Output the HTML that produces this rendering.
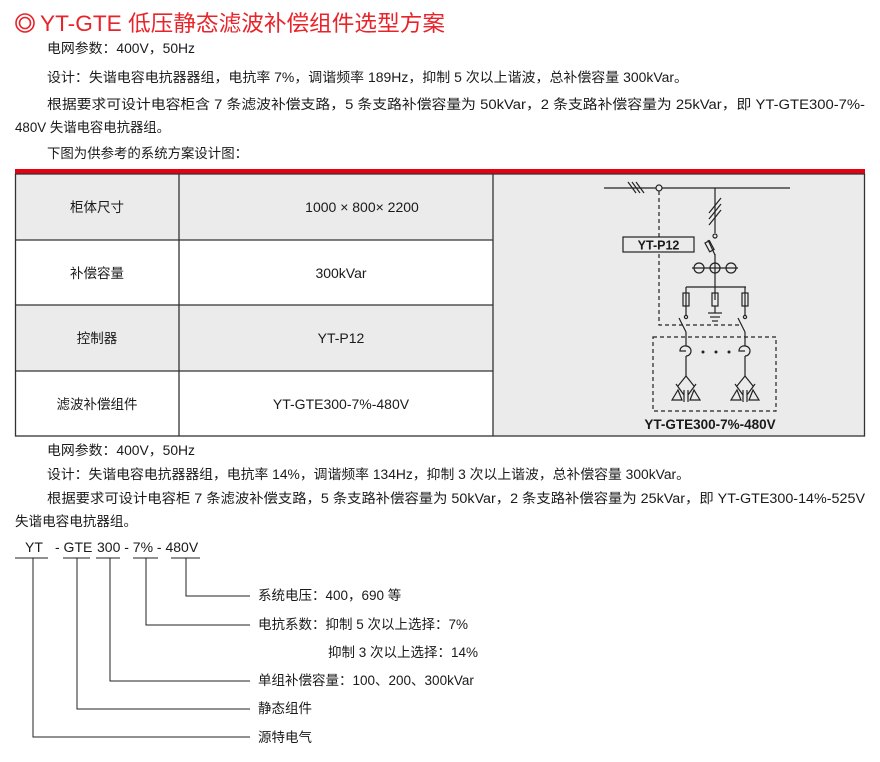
<!DOCTYPE html>
<html><head><meta charset="utf-8"><style>
html,body{margin:0;padding:0;background:#fff;}
svg{display:block;}
text{font-family:"Liberation Sans","Noto Sans CJK SC",sans-serif;fill:#1a1a1a;}
</style></head><body>
<svg width="880" height="762" viewBox="0 0 880 762" xmlns="http://www.w3.org/2000/svg">
<circle cx="25" cy="23" r="9" fill="none" stroke="#e8232a" stroke-width="1.6"/>
<circle cx="25" cy="23" r="5.5" fill="none" stroke="#e8232a" stroke-width="1.6"/>
<text x="40" y="31" font-size="22" style="fill:#e8232a" textLength="405" lengthAdjust="spacingAndGlyphs">YT-GTE 低压静态滤波补偿组件选型方案</text>
<g font-size="13.5">
<text x="47" y="53" textLength="148" lengthAdjust="spacingAndGlyphs">电网参数：400V，50Hz</text>
<text x="47" y="82" textLength="641" lengthAdjust="spacingAndGlyphs">设计：失谐电容电抗器器组，电抗率 7%，调谐频率 189Hz，抑制 5 次以上谐波，总补偿容量 300kVar。</text>
<text x="47" y="109" textLength="818" lengthAdjust="spacingAndGlyphs">根据要求可设计电容柜含 7 条滤波补偿支路，5 条支路补偿容量为 50kVar，2 条支路补偿容量为 25kVar，即 YT-GTE300-7%-</text>
<text x="15" y="132" textLength="155" lengthAdjust="spacingAndGlyphs">480V 失谐电容电抗器组。</text>
<text x="47" y="158" textLength="201" lengthAdjust="spacingAndGlyphs">下图为供参考的系统方案设计图：</text>
</g>
<rect x="15" y="174" width="478" height="66" fill="#ebebeb"/>
<rect x="15" y="305" width="478" height="66" fill="#ebebeb"/>
<rect x="493" y="174" width="372" height="262" fill="#ebebeb"/>
<rect x="15" y="169" width="850" height="5" fill="#e60012"/>
<g stroke="#333" stroke-width="1.3" fill="none">
<rect x="15.5" y="174" width="849" height="262"/>
<line x1="179" y1="174" x2="179" y2="436"/>
<line x1="493" y1="174" x2="493" y2="436"/>
<line x1="15" y1="240" x2="493" y2="240"/>
<line x1="15" y1="305" x2="493" y2="305"/>
<line x1="15" y1="371" x2="493" y2="371"/>
</g>
<g font-size="13.5" text-anchor="middle">
<text x="97" y="212">柜体尺寸</text>
<text x="97" y="278">补偿容量</text>
<text x="97" y="343">控制器</text>
<text x="97" y="409">滤波补偿组件</text>
</g>
<g font-size="14" text-anchor="middle">
<text x="362" y="212">1000 × 800× 2200</text>
<text x="341" y="278">300kVar</text>
<text x="341" y="343">YT-P12</text>
<text x="341" y="409">YT-GTE300-7%-480V</text>
</g>
<g stroke="#222" stroke-width="1.2" fill="none">
<line x1="604" y1="188" x2="790" y2="188"/>
<line x1="628" y1="182" x2="636" y2="193"/>
<line x1="632" y1="182" x2="640" y2="193"/>
<line x1="636" y1="182" x2="644" y2="193"/>
<circle cx="659" cy="188" r="3" fill="#ebebeb"/>
<path d="M659 191 V325 H740" stroke-dasharray="4,3"/>
<rect x="623" y="237" width="71" height="15" fill="#ebebeb"/>
<line x1="715" y1="188" x2="715" y2="233"/>
<line x1="709" y1="213" x2="721" y2="198"/>
<line x1="709" y1="219" x2="721" y2="204"/>
<line x1="709" y1="225" x2="721" y2="210"/>
<circle cx="715" cy="236" r="2" fill="#ebebeb"/>
<line x1="708" y1="240" x2="715" y2="255"/>
<rect x="707" y="241" width="5" height="10" transform="rotate(-28 710 246)"/>
<line x1="715" y1="254" x2="715" y2="300"/>
<circle cx="699" cy="268" r="5"/><circle cx="715" cy="268" r="5"/><circle cx="731" cy="268" r="5"/>
<line x1="692" y1="268" x2="738" y2="268"/>
<line x1="686" y1="287" x2="746" y2="287"/>
<line x1="686" y1="287" x2="686" y2="315"/>
<line x1="745" y1="287" x2="745" y2="315"/>
<rect x="683" y="293" width="6" height="13"/>
<rect x="712" y="293" width="6" height="13"/>
<rect x="742" y="293" width="6" height="13"/>
<line x1="715" y1="306" x2="715" y2="313"/>
<line x1="708" y1="313" x2="722" y2="313"/>
<line x1="710" y1="317" x2="720" y2="317"/>
<line x1="712" y1="321" x2="718" y2="321"/>
<circle cx="686" cy="317" r="1.6" fill="#ebebeb"/>
<circle cx="745" cy="317" r="1.6" fill="#ebebeb"/>
<line x1="679" y1="318" x2="686" y2="332"/>
<line x1="738" y1="318" x2="745" y2="332"/>
<line x1="686" y1="332" x2="686" y2="346"/>
<line x1="745" y1="332" x2="745" y2="346"/>
<rect x="653" y="337" width="123" height="74" stroke-dasharray="4,3"/>
<path d="M686 346 A5 5 0 1 1 686 356 M686 346 A5 5 0 0 0 680 351 H686 M686 356 V376"/>
<path d="M745 346 A5 5 0 1 1 745 356 M745 346 A5 5 0 0 0 739 351 H745 M745 356 V376"/>
<path d="M686 376 L678 386 M686 376 L694 386 M676 384 L684 395 M688 395 L696 384 M672 400 L678 390 L682 400 Z M690 400 L694 390 L700 400 Z M684 390 V402 M688 390 V402"/>
<path d="M745 376 L737 386 M745 376 L753 386 M735 384 L743 395 M747 395 L755 384 M731 400 L737 390 L741 400 Z M749 400 L753 390 L759 400 Z M743 390 V402 M747 390 V402"/>
</g>
<circle cx="703" cy="352" r="1.5" fill="#222"/><circle cx="716" cy="352" r="1.5" fill="#222"/><circle cx="729" cy="352" r="1.5" fill="#222"/>
<text x="658.5" y="249.5" font-size="12.5" font-weight="bold" text-anchor="middle">YT-P12</text>
<text x="710" y="429" font-size="13.5" font-weight="bold" text-anchor="middle">YT-GTE300-7%-480V</text>
<g font-size="13.5">
<text x="47" y="455" textLength="148" lengthAdjust="spacingAndGlyphs">电网参数：400V，50Hz</text>
<text x="47" y="479" textLength="643" lengthAdjust="spacingAndGlyphs">设计：失谐电容电抗器器组，电抗率 14%，调谐频率 134Hz，抑制 3 次以上谐波，总补偿容量 300kVar。</text>
<text x="47" y="503" textLength="818" lengthAdjust="spacingAndGlyphs">根据要求可设计电容柜 7 条滤波补偿支路，5 条支路补偿容量为 50kVar，2 条支路补偿容量为 25kVar，即 YT-GTE300-14%-525V</text>
<text x="15" y="526" textLength="122" lengthAdjust="spacingAndGlyphs">失谐电容电抗器组。</text>
</g>
<g font-size="14">
<text x="25" y="552">YT</text>
<text x="55" y="552">- GTE</text>
<text x="97" y="552">300 - 7% - 480V</text>
</g>
<g stroke="#222" stroke-width="1" fill="none">
<line x1="15" y1="558" x2="48" y2="558"/>
<line x1="63" y1="558" x2="90" y2="558"/>
<line x1="96" y1="558" x2="120" y2="558"/>
<line x1="133" y1="558" x2="158" y2="558"/>
<line x1="171" y1="558" x2="200" y2="558"/>
<path d="M186 558 V596 H250"/>
<path d="M146 558 V625 H250"/>
<path d="M110 558 V681 H250"/>
<path d="M77 558 V709 H250"/>
<path d="M33 558 V737 H250"/>
</g>
<g font-size="13.5">
<text x="258" y="600">系统电压：400，690 等</text>
<text x="258" y="629">电抗系数：抑制 5 次以上选择：7%</text>
<text x="328" y="657">抑制 3 次以上选择：14%</text>
<text x="258" y="685">单组补偿容量：100、200、300kVar</text>
<text x="258" y="713">静态组件</text>
<text x="258" y="742">源特电气</text>
</g>
</svg>
</body></html>
